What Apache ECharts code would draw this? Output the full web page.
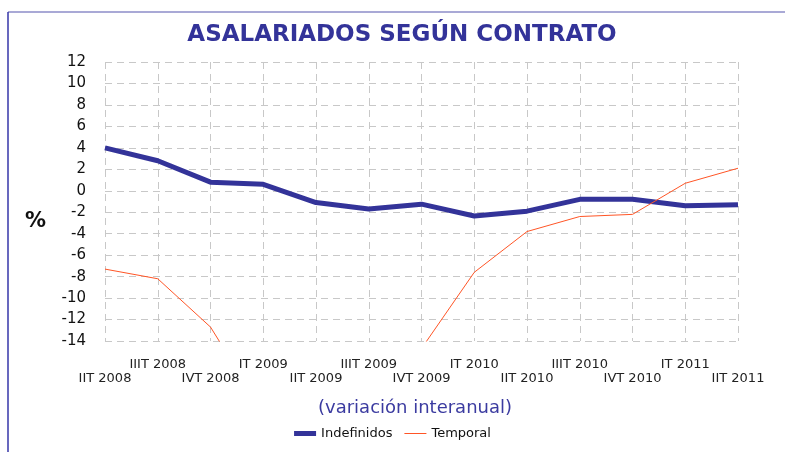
<!DOCTYPE html>
<html>
<head>
<meta charset="utf-8">
<script src="https://cdn.jsdelivr.net/npm/echarts@6/dist/echarts.min.js"></script>
<style>
  html, body { margin: 0; padding: 0; background: #fff; }
  #chart { width: 785px; height: 452px; }
</style>
</head>
<body>
<div id="chart"></div>
<script>
// trimestres
var categories = ['IIT 2008', 'IIIT 2008', 'IVT 2008', 'IT 2009', 'IIT 2009', 'IIIT 2009', 'IVT 2009',
                  'IT 2010', 'IIT 2010', 'IIIT 2010', 'IVT 2010', 'IT 2011', 'IIT 2011'];
// variación interanual (%)
var indefinidos = [4.0, 2.8, 0.8, 0.6, -1.1, -1.7, -1.25, -2.35, -1.9, -0.8, -0.8, -1.4, -1.3];
// los valores por debajo de -14 quedan fuera del gráfico
var temporal = [-7.3, -8.2, -12.7, -20.6, -19.6, -17.9, -14.7, -7.6, -3.8, -2.4, -2.2, 0.7, 2.1];
var yMin = -14, yMax = 12, yStep = 2;

var myChart = echarts.init(document.getElementById('chart'));
var font = 'DejaVu Sans';
var gridLine = { show: true, interval: 0, lineStyle: { color: '#c8c8c8', type: [7, 5], width: 1 } };

var option = {
    animation: false,
    title: [{
        text: 'ASALARIADOS SEGÚN CONTRATO',
        left: 397,
        textAlign: 'center',
        top: 19,
        textStyle: { fontFamily: font, fontSize: 23, fontWeight: 'bold', color: '#333399' }
    }, {
        text: '(variación interanual)',
        left: 410,
        textAlign: 'center',
        top: 394,
        textStyle: { fontFamily: font, fontSize: 18, fontWeight: 'normal', color: '#3b3ba0' }
    }],
    legend: {
        bottom: 7,
        left: 'center',
        itemWidth: 22,
        itemHeight: 5,
        itemGap: 12,
        textStyle: { fontFamily: font, fontSize: 13, color: '#111' },
        data: [
            { name: 'Indefinidos', icon: 'rect' },
            { name: 'Temporal', icon: 'path://M0,0L44,0L44,2L0,2Z' }
        ]
    },
    grid: { left: 105, right: 47, top: 62, bottom: 111 },
    xAxis: [{
        type: 'category',
        data: categories,
        position: 'bottom',
        boundaryGap: false,
        axisLine: { show: false },
        axisTick: { show: false },
        splitLine: gridLine,
        axisLabel: {
            interval: function (i) { return i % 2 === 0; },
            margin: 31,
            fontFamily: font, fontSize: 13, color: '#222'
        }
    }, {
        type: 'category',
        data: categories,
        position: 'bottom',
        boundaryGap: false,
        axisLine: { show: false },
        axisTick: { show: false },
        splitLine: { show: false },
        axisLabel: {
            interval: function (i) { return i % 2 === 1; },
            margin: 17,
            fontFamily: font, fontSize: 13, color: '#222'
        }
    }],
    yAxis: {
        type: 'value',
        min: yMin,
        max: yMax,
        interval: yStep,
        axisLine: { show: false },
        axisTick: { show: false },
        splitLine: gridLine,
        axisLabel: { margin: 19, fontFamily: font, fontSize: 15, color: '#111' }
    },
    graphic: [
        { type: 'line', shape: { x1: 8, y1: 12, x2: 785, y2: 12 }, style: { stroke: '#8c8cc8', lineWidth: 1.5 } },
        { type: 'line', shape: { x1: 8, y1: 12, x2: 8, y2: 452 }, style: { stroke: '#3636a8', lineWidth: 1.5 } },
        { type: 'text', left: 25, top: 211, style: { text: '%', fontFamily: font, fontSize: 21, fontWeight: 'bold', fill: '#111' } }
    ],
    series: [{
        name: 'Indefinidos',
        type: 'line',
        data: indefinidos,
        showSymbol: false,
        symbol: 'none',
        color: '#333399',
        lineStyle: { width: 5, color: '#333399' }
    }, {
        name: 'Temporal',
        type: 'line',
        data: temporal,
        showSymbol: false,
        symbol: 'none',
        clip: true,
        color: '#ff5526',
        lineStyle: { width: 1, color: '#ff5526' }
    }]
};
myChart.setOption(option);
</script>
</body>
</html>
